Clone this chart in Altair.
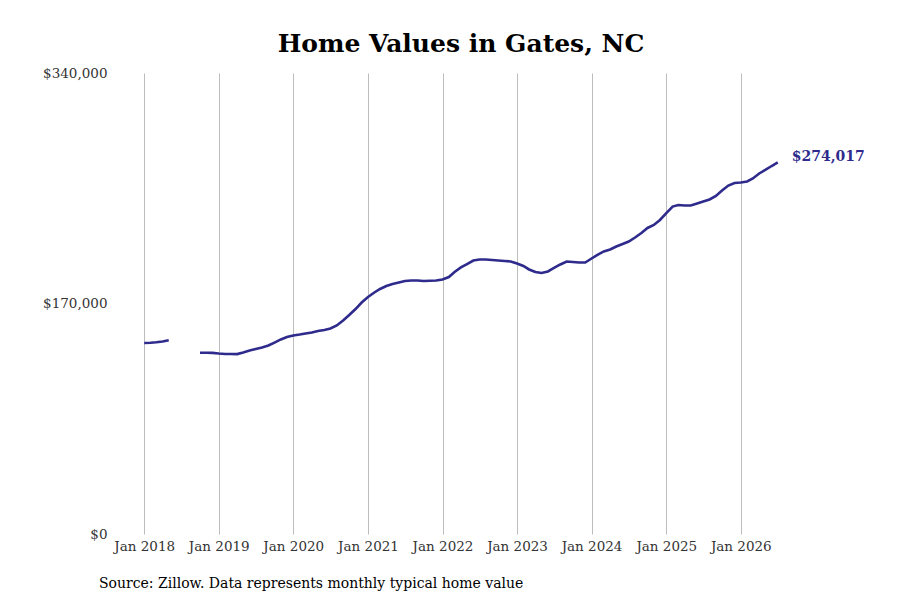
import altair as alt
import pandas as pd

months = pd.date_range("2018-01-01", "2026-07-01", freq="MS")

values = [
    # 2018
    140900, 141000, 141400, 142000, 142900, None, None, None, None, 133700, 133700, 133600,
    # 2019
    133100, 132800, 132800, 132700, 133900, 135300, 136400, 137500, 139000, 141200, 143500, 145300,
    # 2020
    146400, 147100, 147900, 148600, 149700, 150500, 151600, 153800, 157500, 161500, 165900, 170700,
    # 2021
    174800, 178100, 180700, 182900, 184400, 185500, 186600, 187000, 187000, 186600, 186800, 187000,
    # 2022
    187700, 189500, 193200, 196600, 199100, 201700, 202500, 202500, 202100, 201700, 201300, 201000,
    # 2023
    199500, 197700, 195100, 193200, 192500, 193600, 196200, 198800, 201000, 200600, 200200, 200200,
    # 2024
    203200, 206100, 208400, 209800, 212000, 213900, 215700, 218700, 222000, 225700, 227900, 231600,
    # 2025
    236700, 241500, 242600, 242300, 242300, 243800, 245200, 246700, 249300, 253300, 257000, 258900,
    # 2026
    259200, 260000, 262200, 265900, 268500, 271400, 274017,
]

y_ticks = [0, 170000, 340000]
x_tick_years = list(range(2018, 2027))

title_text = "Home Values in Gates, NC"
source_text = "Source: Zillow. Data represents monthly typical home value"

rows = []
seg = 0
prev_none = False
for d, v in zip(months, values):
    if v is None:
        prev_none = True
        continue
    if prev_none:
        seg += 1
        prev_none = False
    rows.append({"date": d.strftime("%Y-%m-%dT00:00:00"), "value": v, "seg": seg})
df = pd.DataFrame(rows)
last = df.tail(1).copy()

LINE = "#2e2b8c"
FONT = "DejaVu Serif"

x_enc = alt.X(
    "date:T",
    scale=alt.Scale(domain=[alt.DateTime(year=2017, month=8, date=1),
                            alt.DateTime(year=2026, month=12, date=1)]),
    axis=alt.Axis(
        title=None,
        values=[alt.DateTime(year=y, month=1, date=1) for y in x_tick_years],
        format="%b %Y",
        grid=True,
        gridColor="#bdbdbd",
        gridWidth=1,
        domain=False,
        ticks=False,
        labelPadding=5,
        labelFont=FONT,
        labelFontSize=13.5,
        labelColor="#333333",
    ),
)
y_enc = alt.Y(
    "value:Q",
    scale=alt.Scale(domain=[0, 340000], nice=False),
    axis=alt.Axis(
        title=None,
        values=y_ticks,
        format="$,.0f",
        grid=False,
        domain=False,
        ticks=False,
        labelPadding=6,
        labelFont=FONT,
        labelFontSize=13.5,
        labelColor="#333333",
    ),
)

line = alt.Chart(df).mark_line(color=LINE, strokeWidth=2.6).encode(
    x=x_enc, y=y_enc, detail="seg:N"
)

label = alt.Chart(last).mark_text(
    align="left", baseline="middle", dx=14, dy=-5,
    font=FONT, fontSize=14, fontWeight="bold", color=LINE,
).encode(
    x="date:T", y="value:Q", text=alt.Text("value:Q", format="$,.0f")
)

source = alt.Chart(pd.DataFrame({"t": [source_text]})).mark_text(
    align="left", baseline="middle", font=FONT, fontSize=14, color="#000000",
).encode(
    x=alt.value(-14), y=alt.value(511), text="t:N"
)

chart = alt.layer(line, label, source).properties(
    width=696,
    height=461,
    title=alt.TitleParams(
        title_text, font=FONT, fontSize=25, fontWeight="bold", color="#000000",
        anchor="middle", offset=9,
    ),
    autosize=alt.AutoSizeParams(type="none"),
    padding={"left": 105, "top": 65, "right": 70, "bottom": 70},
).configure(background="white").configure_view(strokeWidth=0, stroke="transparent")

chart.save("out.html", embed_options={"renderer": "svg", "actions": False})
